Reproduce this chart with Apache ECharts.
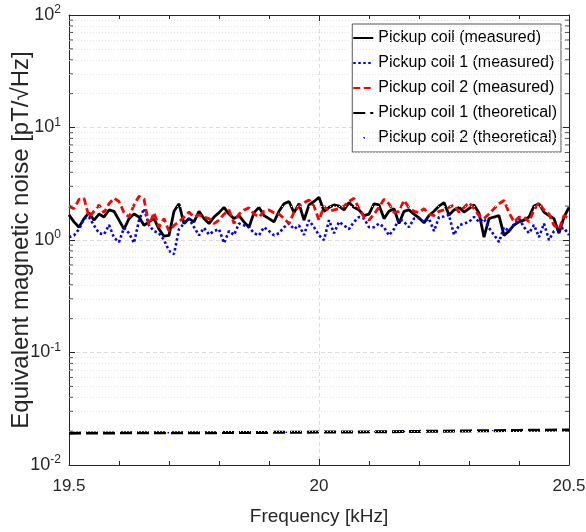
<!DOCTYPE html>
<html><head><meta charset="utf-8">
<script src="https://cdn.jsdelivr.net/npm/echarts@6/dist/echarts.min.js"></script>
<style>html,body{margin:0;padding:0;background:#fff}#c{width:586px;height:532px}</style>
</head><body><div id="c"></div>
<script>
// Frequency grid (kHz), step 0.01
const freqStart = 19.5, freqStep = 0.01;
const coilMeasured = [1.67,1.45,1.30,1.55,1.75,1.50,1.70,1.60,1.85,1.80,1.50,1.25,1.55,1.70,1.60,1.35,1.45,1.55,1.25,1.08,1.10,1.80,2.10,1.40,1.55,1.45,1.80,1.55,1.40,1.60,1.75,1.95,1.70,1.55,1.65,1.45,1.30,1.75,1.95,1.65,1.55,1.45,1.80,2.10,2.20,1.75,2.10,1.50,2.05,2.20,2.40,1.80,1.95,2.05,2.00,1.85,2.15,1.95,1.85,1.65,1.70,2.10,2.05,1.55,1.80,1.90,1.40,1.80,1.85,1.70,1.57,1.42,1.65,1.80,2.00,2.15,1.67,1.85,1.95,1.77,1.90,2.05,1.74,1.06,1.55,1.60,1.65,1.10,1.20,1.36,1.45,1.50,1.60,2.00,2.10,1.77,1.65,1.55,1.15,1.60,1.95];
const coil1Measured = [1.06,1.10,1.25,1.55,1.60,1.35,1.15,1.12,1.36,1.05,0.96,1.28,1.15,0.94,1.50,1.90,1.35,1.20,1.15,1.00,0.80,0.75,1.25,1.40,1.55,1.30,1.10,1.28,1.12,1.20,1.25,0.94,1.20,1.11,1.40,1.35,1.30,1.15,1.10,1.30,1.20,1.10,1.15,1.30,1.40,1.25,1.35,1.11,1.50,1.30,1.10,1.00,1.50,1.15,1.45,1.35,1.25,1.45,1.60,1.55,1.30,1.30,1.40,1.30,1.10,1.25,1.55,1.45,1.30,1.55,1.57,1.45,1.55,1.20,1.60,1.62,1.67,1.11,1.35,1.40,1.45,1.60,1.45,1.55,1.28,1.11,0.96,1.30,1.20,1.38,1.55,1.30,1.15,1.36,1.06,1.40,1.00,1.20,1.25,1.28,1.11];
const coil2Measured = [2.00,1.90,2.30,2.35,1.60,1.80,2.05,1.75,2.10,2.35,2.20,1.75,1.60,2.05,2.45,2.30,1.35,1.75,1.30,1.55,1.20,1.35,1.45,1.60,1.77,1.60,1.67,1.60,1.55,1.40,1.50,1.70,1.85,1.40,1.70,1.85,1.93,1.70,1.60,1.80,1.85,1.75,1.70,1.55,1.40,1.77,2.00,2.15,2.27,2.00,1.50,2.00,1.80,1.85,1.90,2.00,2.20,2.35,1.90,1.60,1.50,1.70,1.95,2.30,2.10,1.75,1.80,2.25,1.93,1.80,1.75,1.90,1.70,1.65,1.80,1.85,1.95,2.05,1.77,1.95,2.15,1.90,1.65,1.55,1.70,1.90,2.10,2.25,1.75,1.45,1.60,1.60,1.45,1.85,2.15,1.85,1.70,1.35,1.25,1.65,1.55];
// Theoretical curves, step 0.1 kHz
const theoStep = 0.1;
const coil1Theory = [0.0192,0.0193,0.0193,0.0194,0.0195,0.0196,0.0197,0.0199,0.0201,0.0203,0.0205];
const coil2Theory = [0.0192,0.0193,0.0193,0.0194,0.0195,0.0196,0.0197,0.0199,0.0201,0.0203,0.0205];
const xTicks = [19.5, 20, 20.5];
const yDecades = [0.01, 0.1, 1, 10, 100];
const yMinor = [];
for (let d = 0; d < 4; d++) for (let m = 2; m <= 9; m++) yMinor.push(+(m * yDecades[d]).toPrecision(3));

const pairs = (arr, step) => arr.map((v, i) => [+(freqStart + i * step).toFixed(3), v]);
const FONT = 'Liberation Sans, Arial, sans-serif';

const chart = echarts.init(document.getElementById('c'));
const yLabel = {
  fontFamily: FONT, color: '#262626', margin: 8,
  formatter: v => '{b|10}{s|' + Math.round(Math.log10(v)) + '}',
  rich: { b: { fontSize: 18, fontFamily: FONT, color: '#262626' },
          s: { fontSize: 12, fontFamily: FONT, color: '#262626', padding: [0, 0, 10, 0] } }
};
const axLine = { show: true, lineStyle: { color: '#262626', width: 1 } };
chart.setOption({
  animation: false,
  grid: { left: 69, right: 17, top: 15, bottom: 67, containLabel: false, outerBoundsMode: 'none' },
  legend: {
    orient: 'vertical', right: 25, top: 24,
    backgroundColor: '#fff', borderColor: '#555', borderWidth: 1,
    padding: [6, 4, 6, 0], itemGap: 9, itemWidth: 20, itemHeight: 16,
    itemStyle: { opacity: 0 },
    textStyle: { fontFamily: FONT, fontSize: 16, color: '#000' },
    data: ['Pickup coil (measured)', 'Pickup coil 1 (measured)', 'Pickup coil 2 (measured)',
           'Pickup coil 1 (theoretical)', 'Pickup coil 2 (theoretical)']
  },
  xAxis: [{
    type: 'value', min: 19.5, max: 20.5, interval: 0.5,
    name: 'Frequency [kHz]', nameLocation: 'middle', nameGap: 42, nameMoveOverlap: false,
    nameTextStyle: { fontFamily: FONT, fontSize: 19, color: '#262626' },
    axisLine: axLine,
    axisTick: { show: true, inside: true, length: 6, lineStyle: { color: '#262626' } },
    minorTick: { show: true, splitNumber: 5, length: 4, lineStyle: { color: '#262626' } },
    axisLabel: { fontFamily: FONT, fontSize: 17, color: '#262626', margin: 13,
      formatter: v => String(+v.toFixed(1)) },
    splitLine: { show: true, lineStyle: { color: '#dcdcdc', type: [4, 3] } }
  }, {
    type: 'value', position: 'top', min: 19.5, max: 20.5, interval: 0.5,
    axisLine: axLine,
    axisTick: { show: true, inside: true, length: 6, lineStyle: { color: '#262626' } },
    minorTick: { show: true, splitNumber: 5, length: 4, lineStyle: { color: '#262626' } },
    axisLabel: { show: false }, splitLine: { show: false }
  }],
  yAxis: [{
    type: 'log', logBase: 10, min: 0.01, max: 100,
    name: 'Equivalent magnetic noise [pT/\u221AHz]', nameLocation: 'middle', nameGap: 36, nameMoveOverlap: false,
    nameTextStyle: { fontFamily: FONT, fontSize: 24, color: '#262626' },
    axisLine: axLine,
    axisTick: { show: true, inside: true, length: 6, lineStyle: { color: '#262626' } },
    axisLabel: yLabel,
    splitLine: { show: true, lineStyle: { color: '#dcdcdc', type: [4, 3] } }
  }, {
    type: 'log', logBase: 10, min: 0.01, max: 100, position: 'right',
    axisLine: axLine,
    axisTick: { show: true, inside: true, length: 6, lineStyle: { color: '#262626' } },
    axisLabel: { show: false }, splitLine: { show: false }
  }],
  series: [
    { name: 'Pickup coil (measured)', type: 'line', data: pairs(coilMeasured, freqStep),
      symbol: 'none', z: 3, lineStyle: { color: '#000', width: 2.8 }, itemStyle: { color: '#000' },
      markLine: { silent: true, symbol: 'none', label: { show: false }, animation: false,
        lineStyle: { color: '#e6e6e6', type: [1, 2], width: 1 },
        data: yMinor.map(v => ({ yAxis: v })) } },
    { name: 'Pickup coil 1 (measured)', type: 'line', data: pairs(coil1Measured, freqStep),
      symbol: 'none', z: 3, lineStyle: { color: '#0000ff', width: 2.6, type: [2.5, 2.5] }, itemStyle: { color: '#0000ff' } },
    { name: 'Pickup coil 2 (measured)', type: 'line', data: pairs(coil2Measured, freqStep),
      symbol: 'none', z: 3, lineStyle: { color: '#ff0000', width: 2.8, type: [7, 3.5] }, itemStyle: { color: '#ff0000' } },
    { name: 'Pickup coil 1 (theoretical)', type: 'line', data: pairs(coil1Theory, theoStep),
      symbol: 'none', z: 4, lineStyle: { color: '#000', width: 3, type: [12, 5] }, itemStyle: { color: '#000' } },
    { name: 'Pickup coil 2 (theoretical)', type: 'line', data: pairs(coil2Theory, theoStep),
      symbol: 'none', z: 2, lineStyle: { color: '#0000ff', width: 1.5, type: [1.5, 28], dashOffset: -10 }, itemStyle: { color: '#0000ff' } },
    { type: 'scatter', silent: true, symbol: 'rect', symbolSize: [4, 1], symbolOffset: [2, 0],
      itemStyle: { color: '#262626' }, data: yMinor.map(v => [19.5, v]), z: 5 },
    { type: 'scatter', silent: true, symbol: 'rect', symbolSize: [4, 1], symbolOffset: [-2, 0],
      itemStyle: { color: '#262626' }, data: yMinor.map(v => [20.5, v]), z: 5 }
  ]
});
</script></body></html>
